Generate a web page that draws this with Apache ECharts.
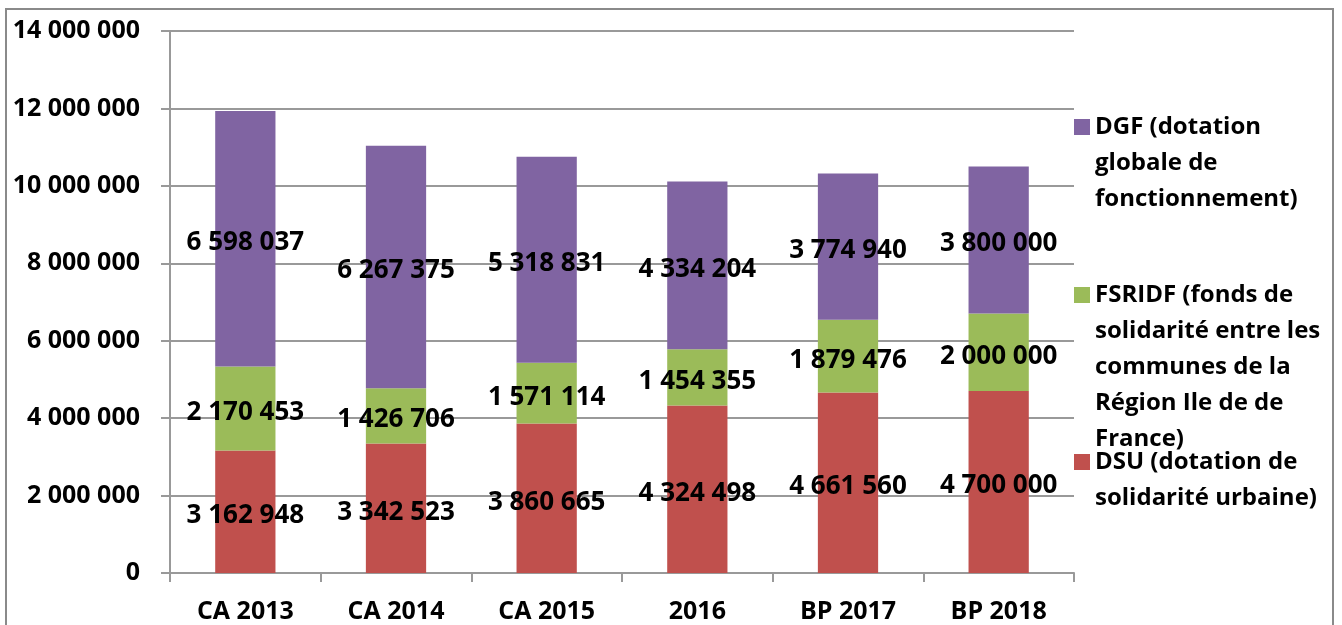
<!DOCTYPE html>
<html>
<head>
<meta charset="utf-8">
<script src="https://cdn.jsdelivr.net/npm/echarts@6/dist/echarts.min.js"></script>
<style>
  html, body { margin: 0; padding: 0; background: #fff; }
  #chart { width: 1342px; height: 625px; }
</style>
</head>
<body>
<div id="chart"></div>
<script>
// catégories (années)
const categories = ['CA 2013', 'CA 2014', 'CA 2015', '2016', 'BP 2017', 'BP 2018']

// valeurs par dotation
const dsuValues = [3162948, 3342523, 3860665, 4324498, 4661560, 4700000]
const fsridfValues = [2170453, 1426706, 1571114, 1454355, 1879476, 2000000]
const dgfValues = [6598037, 6267375, 5318831, 4334204, 3774940, 3800000]

const seriesNames = [
  'DSU (dotation de solidarité urbaine)',
  'FSRIDF (fonds de solidarité entre les communes de la Région Ile de de France)',
  'DGF (dotation globale de fonctionnement)'
]
const legendLines = {
  'DGF (dotation globale de fonctionnement)': ['DGF (dotation', 'globale de', 'fonctionnement)'],
  'FSRIDF (fonds de solidarité entre les communes de la Région Ile de de France)': ['FSRIDF (fonds de', 'solidarité entre les', 'communes de la', 'Région Ile de de', 'France)'],
  'DSU (dotation de solidarité urbaine)': ['DSU (dotation de', 'solidarité urbaine)']
}

const FONT = '"Open Sans", "DejaVu Sans", sans-serif'
const LINE_H = 36

function fmt(v) {
  return String(v).replace(/\B(?=(\d{3})+(?!\d))/g, ' ')
}

// le texte est centré sur l'icône : on ajoute des lignes vides au-dessus
// pour que la première ligne soit alignée avec le carré
function makeLegend(name, iconY) {
  const n = legendLines[name].length
  const total = 2 * n - 1
  return {
    data: [name],
    orient: 'vertical',
    left: 1074,
    top: iconY - total * LINE_H / 2,
    padding: 0,
    itemWidth: 16,
    itemHeight: 16,
    icon: 'rect',
    selectedMode: false,
    formatter: (nm) => '\n'.repeat(n - 1) + legendLines[nm].join('\n'),
    textStyle: {
      fontFamily: FONT,
      fontWeight: 'bold',
      fontSize: 24,
      color: '#000',
      lineHeight: LINE_H
    }
  }
}

const chart = echarts.init(document.getElementById('chart'))

const colors = ['#C0504D', '#9BBB59', '#8064A2']
const valueLists = [dsuValues, fsridfValues, dgfValues]

const seriesList = valueLists.map((vals, i) => ({
  name: seriesNames[i],
  type: 'bar',
  stack: 'total',
  barWidth: '40%',
  itemStyle: { color: colors[i] },
  label: {
    show: true,
    position: 'inside',
    offset: [0, 4],
    color: '#000',
    fontFamily: FONT,
    fontWeight: 'bold',
    fontSize: 26,
    formatter: (p) => fmt(p.value)
  },
  data: vals
}))

chart.setOption({
  animation: false,
  color: colors,
  graphic: [{
    type: 'rect',
    shape: { x: 6, y: 9, width: 1327, height: 660 },
    style: { fill: 'none', stroke: '#8a8a8a', lineWidth: 2 },
    silent: true
  }],
  legend: [
    makeLegend(seriesNames[2], 127),
    makeLegend(seriesNames[1], 295),
    makeLegend(seriesNames[0], 462)
  ],
  grid: {
    left: 170,
    right: 268,
    top: 31,
    bottom: 52
  },
  xAxis: {
    type: 'category',
    data: categories,
    axisLine: { lineStyle: { color: '#999', width: 2 } },
    axisTick: { show: true, length: 9, lineStyle: { color: '#999', width: 2 } },
    axisLabel: {
      color: '#000',
      fontFamily: FONT,
      fontWeight: 'bold',
      fontSize: 25,
      margin: 26
    }
  },
  yAxis: {
    type: 'value',
    min: 0,
    max: 14000000,
    interval: 2000000,
    axisLine: { show: true, lineStyle: { color: '#999', width: 2 } },
    axisTick: { show: true, length: 9, lineStyle: { color: '#999', width: 2 } },
    splitLine: { lineStyle: { color: '#999', width: 2 } },
    axisLabel: {
      color: '#000',
      fontFamily: FONT,
      fontWeight: 'bold',
      fontSize: 25,
      margin: 30,
      formatter: (v) => fmt(v)
    }
  },
  series: seriesList
})
</script>
</body>
</html>
